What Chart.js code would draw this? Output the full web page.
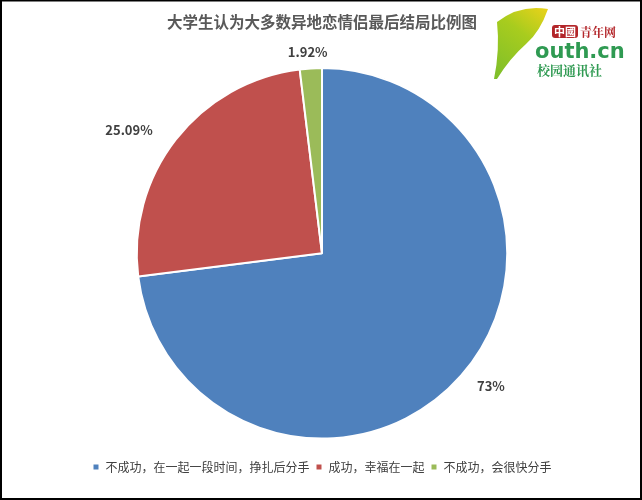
<!DOCTYPE html>
<html lang="zh">
  <head>
    <meta charset="UTF-8" />
    <title>大学生认为大多数异地恋情侣最后结局比例图</title>
    <script src="https://cdn.jsdelivr.net/npm/chart.js"></script>
    <style>
      body { margin: 0; background: #fff; }
      #wrap { width: 642px; height: 500px; position: relative; }
    </style>
  </head>
  <body>
    <div id="wrap"><canvas id="pie" width="642" height="500"></canvas></div>
    <script>
      const categories = ["不成功，在一起一段时间，挣扎后分手", "成功，幸福在一起", "不成功，会很快分手"];
      const percents = [73, 25.09, 1.92];
      const sliceColors = ["#4f81bd", "#c0504d", "#9bbb59"];

      const FONT = "'Noto Sans CJK SC', 'Noto Sans', sans-serif";

      // 扇区外侧的百分比标签
      const outsideLabels = {
        id: "outsideLabels",
        afterDatasetsDraw(chart) {
          const ctx = chart.ctx;
          const meta = chart.getDatasetMeta(0);
          ctx.save();
          ctx.font = "bold 13px " + FONT;
          ctx.fillStyle = "#404040";
          ctx.textAlign = "center";
          ctx.textBaseline = "middle";
          meta.data.forEach(function (arc, i) {
            const p = arc.getProps(["x", "y", "startAngle", "endAngle", "outerRadius"], true);
            const mid = (p.startAngle + p.endAngle) / 2;
            const text = percents[i] + "%";
            const halfW = ctx.measureText(text).width / 2;
            const x = p.x + Math.cos(mid) * (p.outerRadius + 12 + 2 * halfW);
            const y = p.y + Math.sin(mid) * (p.outerRadius + 16);
            ctx.fillText(text, x, y);
          });
          ctx.restore();
        },
      };

      // 边框和右上角标志
      const decor = {
        id: "decor",
        afterDraw(chart) {
          const ctx = chart.ctx;
          ctx.save();
          ctx.fillStyle = "#000";
          ctx.fillRect(0, 0, 642, 1.5);
          ctx.fillRect(0, 0, 2, 500);
          ctx.fillRect(640, 0, 2, 500);
          ctx.fillRect(0, 498, 642, 2);

          // 银杏叶
          const g = ctx.createLinearGradient(495, 75, 545, 8);
          g.addColorStop(0, "#7fbf2a");
          g.addColorStop(0.6, "#a8cc1e");
          g.addColorStop(1, "#e8d21a");
          ctx.fillStyle = g;
          ctx.beginPath();
          ctx.moveTo(494, 79);
          ctx.quadraticCurveTo(500, 50, 497, 22);
          ctx.quadraticCurveTo(520, 4, 548, 9);
          ctx.quadraticCurveTo(540, 32, 526, 44);
          ctx.quadraticCurveTo(510, 58, 497, 79);
          ctx.closePath();
          ctx.fill();

          // 中國 青年网
          ctx.fillStyle = "#b3262a";
          ctx.beginPath();
          ctx.roundRect(552, 25, 26, 13, 3);
          ctx.fill();
          ctx.fillStyle = "#fff";
          ctx.font = "bold 11px " + FONT;
          ctx.textBaseline = "middle";
          ctx.textAlign = "left";
          ctx.fillText("中國", 554, 32);
          ctx.fillStyle = "#b3262a";
          ctx.font = "bold 12px 'Noto Serif CJK SC', " + FONT;
          ctx.fillText("青年网", 580, 32);

          ctx.fillStyle = "#2f9a52";
          ctx.font = "bold 21px 'DejaVu Sans', sans-serif";
          ctx.fillText("outh.cn", 535, 53);
          ctx.font = "bold 13px 'Noto Serif CJK SC', " + FONT;
          ctx.fillText("校园通讯社", 537, 70);
          ctx.restore();
        },
      };

      new Chart(document.getElementById("pie"), {
        type: "pie",
        data: {
          labels: categories,
          datasets: [
            {
              data: percents,
              backgroundColor: sliceColors,
              borderColor: "#ffffff",
              borderWidth: 2,
              radius: "92.3%",
            },
          ],
        },
        options: {
          responsive: false,
          animation: false,
          layout: { padding: { left: 2, right: 0, top: 0, bottom: 17 } },
          plugins: {
            title: {
              display: true,
              text: "大学生认为大多数异地恋情侣最后结局比例图",
              color: "#595959",
              font: { family: FONT, size: 15.5, weight: "bold" },
              padding: { top: 13, bottom: 20 },
            },
            legend: {
              position: "bottom",
              labels: {
                color: "#404040",
                font: { family: FONT, size: 12 },
                boxWidth: 7,
                boxHeight: 7,
                padding: 6,
              },
            },
            tooltip: { enabled: false },
          },
        },
        plugins: [outsideLabels, decor],
      });
    </script>
  </body>
</html>
